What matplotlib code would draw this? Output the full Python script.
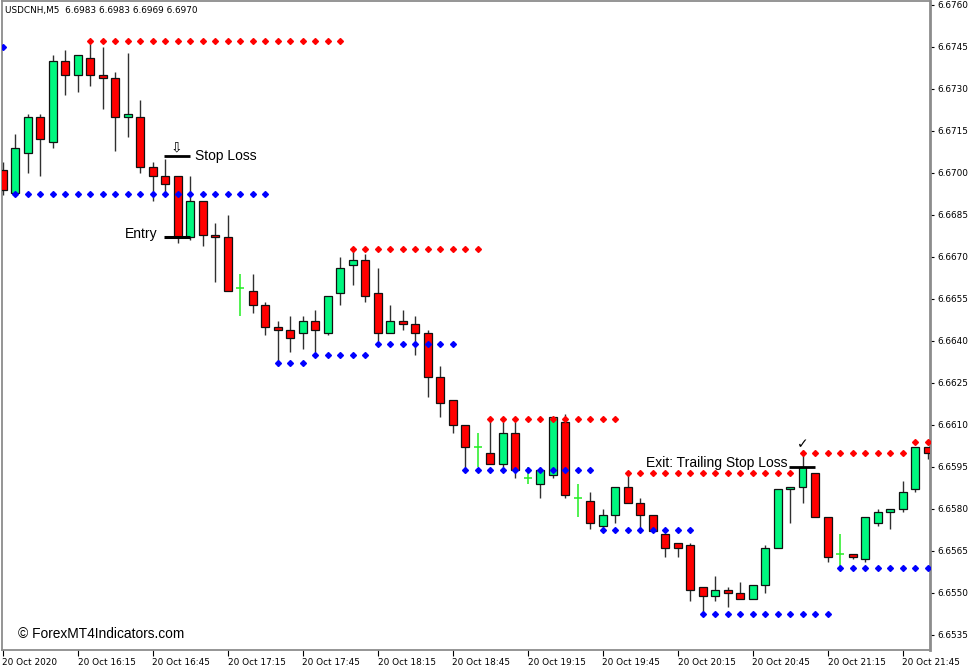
import matplotlib
matplotlib.use("Agg")
import matplotlib.pyplot as plt
import numpy as np

# ---------------- data ----------------
symbol_header = "USDCNH,M5  6.6983 6.6983 6.6969 6.6970"

opens = [6.6701, 6.6693, 6.6707, 6.6720, 6.6711, 6.6740, 6.6735, 6.6741, 6.6735, 6.6734,
         6.6720, 6.6720, 6.6702, 6.6699, 6.6699, 6.6677, 6.6690, 6.6678, 6.6677, 6.6659,
         6.6658, 6.6653, 6.6645, 6.6644, 6.6643, 6.6647, 6.6643, 6.6657, 6.6667, 6.6669,
         6.6657, 6.6643, 6.6647, 6.6646, 6.6643, 6.6627, 6.6619, 6.6610, 6.6602, 6.6600,
         6.6596, 6.6607, 6.6591, 6.6589, 6.6592, 6.6611, 6.6584, 6.6583, 6.6574, 6.6578,
         6.6588, 6.6582, 6.6578, 6.6571, 6.6568, 6.6567, 6.6552, 6.6549, 6.6551, 6.6550,
         6.6548, 6.6553, 6.6566, 6.6587, 6.6588, 6.6593, 6.6577, 6.6564, 6.6564, 6.6562,
         6.6575, 6.6579, 6.6580, 6.6587, 6.6602]
highs = [6.6704, 6.6714, 6.6721, 6.6721, 6.6742, 6.6744, 6.6742, 6.6746, 6.6745, 6.6736,
         6.6743, 6.6726, 6.6704, 6.6705, 6.6699, 6.6699, 6.6690, 6.6682, 6.6685, 6.6664,
         6.6664, 6.6654, 6.6647, 6.6649, 6.6649, 6.6651, 6.6656, 6.6670, 6.6672, 6.6671,
         6.6666, 6.6653, 6.6651, 6.6649, 6.6644, 6.6631, 6.6619, 6.6610, 6.6607, 6.6612,
         6.6611, 6.6611, 6.6595, 6.6595, 6.6613, 6.6614, 6.6589, 6.6586, 6.6580, 6.6588,
         6.6593, 6.6584, 6.6578, 6.6571, 6.6568, 6.6568, 6.6552, 6.6556, 6.6552, 6.6554,
         6.6553, 6.6567, 6.6587, 6.6588, 6.6601, 6.6593, 6.6577, 6.6571, 6.6564, 6.6577,
         6.6580, 6.6580, 6.6590, 6.6602, 6.6602]
lows = [6.6692, 6.6692, 6.6700, 6.6699, 6.6709, 6.6728, 6.6729, 6.6731, 6.6723, 6.6708,
        6.6713, 6.6700, 6.6690, 6.6693, 6.6675, 6.6676, 6.6674, 6.6661, 6.6658, 6.6649,
        6.6650, 6.6642, 6.6631, 6.6636, 6.6637, 6.6636, 6.6642, 6.6653, 6.6660, 6.6654,
        6.6640, 6.6643, 6.6644, 6.6635, 6.6620, 6.6613, 6.6607, 6.6594, 6.6595, 6.6596,
        6.6595, 6.6591, 6.6589, 6.6584, 6.6591, 6.6584, 6.6577, 6.6573, 6.6572, 6.6575,
        6.6582, 6.6572, 6.6572, 6.6563, 6.6563, 6.6547, 6.6542, 6.6547, 6.6545, 6.6548,
        6.6548, 6.6550, 6.6566, 6.6575, 6.6582, 6.6577, 6.6561, 6.6558, 6.6562, 6.6561,
        6.6574, 6.6573, 6.6579, 6.6586, 6.6598]
closes = [6.6694, 6.6709, 6.6720, 6.6712, 6.6740, 6.6735, 6.6742, 6.6735, 6.6734, 6.6720,
          6.6721, 6.6702, 6.6699, 6.6696, 6.6677, 6.6690, 6.6678, 6.6677, 6.6658, 6.6659,
          6.6653, 6.6645, 6.6644, 6.6641, 6.6647, 6.6644, 6.6656, 6.6666, 6.6669, 6.6656,
          6.6643, 6.6647, 6.6646, 6.6643, 6.6627, 6.6618, 6.6610, 6.6602, 6.6602, 6.6596,
          6.6607, 6.6594, 6.6591, 6.6594, 6.6613, 6.6585, 6.6584, 6.6575, 6.6578, 6.6588,
          6.6582, 6.6578, 6.6572, 6.6566, 6.6566, 6.6551, 6.6549, 6.6551, 6.6550, 6.6548,
          6.6553, 6.6566, 6.6587, 6.6588, 6.6595, 6.6577, 6.6563, 6.6564, 6.6563, 6.6577,
          6.6579, 6.6580, 6.6586, 6.6602, 6.6600]

# fractal-style level dots: (first bar, last bar, price)
res_start = [7, 28, 39, 50, 64, 73]
res_end = [27, 38, 49, 63, 72, 74]
res_level = [6.6747, 6.6673, 6.6612, 6.6593, 6.6600, 6.6604]
sup_start = [0, 1, 22, 25, 30, 37, 48, 56, 67]
sup_end = [0, 21, 24, 29, 36, 47, 55, 66, 74]
sup_level = [6.6745, 6.66925, 6.6632, 6.6635, 6.6639, 6.6594, 6.65725, 6.65425, 6.6559]

# annotations
stop_loss_bar, stop_loss_level = 14, 6.6706
entry_bar, entry_level = 14, 6.6677
exit_bar, exit_level = 64, 6.6595

x_tick_bars = [0, 6, 12, 18, 24, 30, 36, 42, 48, 54, 60, 66, 72]
x_tick_labels = ["20 Oct 2020", "20 Oct 16:15", "20 Oct 16:45", "20 Oct 17:15",
                 "20 Oct 17:45", "20 Oct 18:15", "20 Oct 18:45", "20 Oct 19:15",
                 "20 Oct 19:45", "20 Oct 20:15", "20 Oct 20:45", "20 Oct 21:15",
                 "20 Oct 21:45"]
y_ticks = [6.6535, 6.6550, 6.6565, 6.6580, 6.6595, 6.6610, 6.6625, 6.6640,
           6.6655, 6.6670, 6.6685, 6.6700, 6.6715, 6.6730, 6.6745, 6.6760]

# ---------------- plot ----------------
W, H = 977, 672
fig = plt.figure(figsize=(W / 100, H / 100), dpi=100)
ax = fig.add_axes([2 / W, 22 / H, 928 / W, 649 / H])
ax.set_facecolor("white")

o = np.array(opens); h = np.array(highs); l = np.array(lows); c = np.array(closes)
x = np.arange(len(o))
bull_col = "#00F77F"
bear_col = "#FF0000"
doji_col = "#22EE22"
bw = 0.64

for i in range(len(o)):
    if abs(o[i] - c[i]) < 1e-9:
        ax.vlines(x[i], l[i], h[i], color=doji_col, lw=1.1, zorder=2)
        ax.hlines(o[i], x[i] - bw / 2, x[i] + bw / 2, color=doji_col, lw=1.1, zorder=2)
    else:
        ax.vlines(x[i], l[i], h[i], color="#303030", lw=1.0, zorder=2)
        col = bull_col if c[i] > o[i] else bear_col
        ax.bar(x[i], abs(c[i] - o[i]), bottom=min(o[i], c[i]), width=bw,
               color=col, edgecolor="#111111", linewidth=0.9, zorder=3)

for s, e, lev in zip(res_start, res_end, res_level):
    xs = np.arange(s, e + 1)
    ax.plot(xs, [lev] * len(xs), ls="none", marker="D", ms=3.0, color="#FF0000",
            mec="#FF0000", zorder=4)
for s, e, lev in zip(sup_start, sup_end, sup_level):
    xs = np.arange(s, e + 1)
    ax.plot(xs, [lev] * len(xs), ls="none", marker="D", ms=3.0, color="#0000FF",
            mec="#0000FF", zorder=4)

# annotations
ax.hlines(stop_loss_level, stop_loss_bar - 1.1, stop_loss_bar + 1.0, color="black", lw=2, zorder=5)
ax.text(stop_loss_bar + 1.4, stop_loss_level, "Stop Loss", fontsize=10,
        family="Liberation Sans", ha="left", va="center", zorder=6)
ax.text(stop_loss_bar - 0.05, stop_loss_level + 0.00030, "\u21e9", fontsize=10,
        family="DejaVu Sans", ha="center", va="center", zorder=6)
ax.hlines(entry_level, entry_bar - 1.1, entry_bar + 1.0, color="black", lw=2.2, zorder=5)
ax.text(entry_bar - 1.6, entry_level + 0.00012, "Entry", fontsize=10,
        family="Liberation Sans", ha="right", va="center", zorder=6)
ax.hlines(exit_level, exit_bar - 1.1, exit_bar + 1.0, color="black", lw=2, zorder=5)
ax.text(exit_bar - 1.2, exit_level + 0.00014, "Exit: Trailing Stop Loss", fontsize=10,
        family="Liberation Sans", ha="right", va="center", zorder=6)
ax.text(exit_bar, exit_level + 0.00082, "\u2713", fontsize=10, family="DejaVu Sans",
        ha="center", va="center", zorder=6)

# axes
ax.set_xlim(-0.04, 74.2)
ax.set_ylim(6.676 - 645 / 28000, 6.676 + 4 / 28000)
ax.yaxis.tick_right()
ax.set_yticks(y_ticks)
ax.set_yticklabels([f"{v:.4f}" for v in y_ticks])
ax.set_xticks(x_tick_bars)
ax.set_xticklabels(x_tick_labels)
for lab in ax.get_xticklabels():
    lab.set_ha("left")
ax.tick_params(axis="y", direction="out", length=3, width=0.8, pad=2,
               labelsize=6.4, colors="black")
ax.tick_params(axis="x", direction="out", length=4, width=0.8, pad=1.5,
               labelsize=6.4, colors="black")
for sp in ax.spines.values():
    sp.set_color("#8C8C8C")
    sp.set_linewidth(1.3)
ax.spines["right"].set_linewidth(2)

fig.text(5 / W, 1 - 10 / H, symbol_header, fontsize=6.4, ha="left", va="center")
fig.text(18 / W, 1 - 634 / H, "\u00a9 ForexMT4Indicators.com", fontsize=9.9,
         family="Liberation Sans", ha="left", va="center")

fig.savefig("out.png", dpi=100, facecolor="white")
